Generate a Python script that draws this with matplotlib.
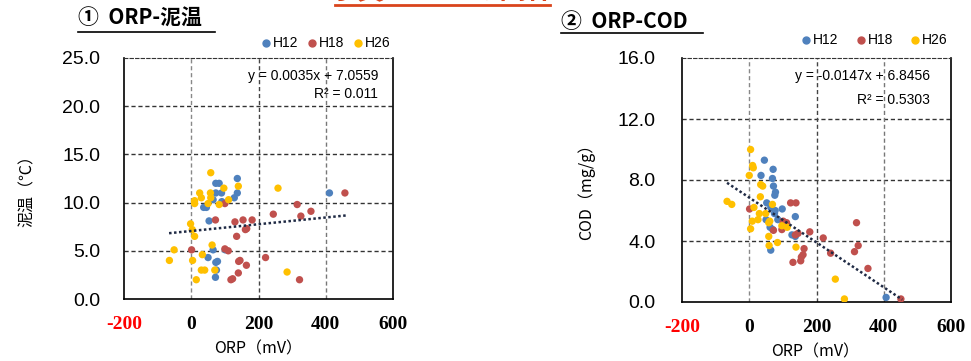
import numpy as np
import matplotlib
matplotlib.use('Agg')
import matplotlib.pyplot as plt
from matplotlib.lines import Line2D

plt.rcParams['font.family'] = ['Liberation Sans', 'Noto Sans CJK JP', 'DejaVu Sans']

W, H = 971, 361
series = ['H12', 'H18', 'H26']
colors = {'H12': '#4F81BD', 'H18': '#C0504D', 'H26': '#FFC000'}

# ---- ORP vs mud temperature ----
temp_h12_orp = [137, 73, 83, 73, 90, 137, 128, 65, 91, 37, 45, 53, 65, 101, 50, 73, 78, 75, 72, 411]
temp_h12_val = [12.5, 12.0, 12.0, 11.0, 11.0, 11.0, 10.5, 10.3, 10.1, 9.5, 9.5, 8.1, 5.1, 5.1, 4.3, 3.8, 3.9, 3.0, 2.25, 11.0]
temp_h18_orp = [457, 315, 356, 244, 326, 100, 72, 130, 154, 181, 161, 165, 135, 1, 100, 110, 141, 145, 221, 164, 140, 118, 123, 322]
temp_h18_val = [11.0, 9.8, 9.1, 8.8, 8.6, 9.9, 8.2, 8.0, 8.2, 8.2, 7.2, 7.3, 6.5, 5.1, 5.2, 5.0, 3.9, 4.0, 4.3, 3.5, 2.7, 2.0, 2.1, 2.0]
temp_h26_orp = [58, 25, 57, 140, 97, 30, 10, 10, 50, 58, 83, 111, 258, -2, 3, 10, -51, 62, -65, 4, 33, 30, 40, 70, 15, 285]
temp_h26_val = [13.1, 11.0, 11.0, 11.7, 11.5, 10.5, 10.2, 9.9, 9.9, 10.5, 9.8, 10.3, 11.5, 7.8, 7.2, 6.5, 5.1, 5.6, 4.0, 4.0, 4.6, 3.0, 3.0, 3.0, 2.0, 2.8]

# ---- ORP vs COD ----
cod_h12_orp = [45, 71, 35, 69, 72, 78, 76, 52, 64, 77, 98, 75, 50, 85, 137, 62, 70, 127, 137, 64, 407]
cod_h12_val = [9.3, 8.7, 8.3, 8.1, 7.6, 7.2, 7.0, 6.5, 6.2, 6.0, 6.1, 5.8, 5.4, 5.4, 5.6, 4.9, 4.75, 4.4, 4.3, 3.4, 0.3]
cod_h18_orp = [123, 139, 319, 1, 101, 111, 97, 72, 180, 145, 137, 220, 324, 313, 163, 242, 160, 155, 153, 130, 353, 451]
cod_h18_val = [6.5, 6.5, 5.2, 6.1, 5.3, 5.2, 4.75, 4.7, 4.6, 4.5, 4.4, 4.2, 3.7, 3.3, 3.5, 3.2, 3.1, 2.95, 2.7, 2.6, 2.2, 0.2]
cod_h26_orp = [4, 10, 12, 0, 34, 40, 33, -66, -52, 69, 14, 30, 49, 26, 9, 61, 58, 4, 97, 113, 58, 84, 59, 139, 256, 283]
cod_h26_val = [10.0, 8.95, 8.8, 8.3, 7.7, 7.6, 6.9, 6.6, 6.4, 6.4, 6.2, 5.8, 5.8, 5.4, 5.3, 5.3, 5.2, 4.8, 5.0, 4.9, 4.3, 3.9, 3.7, 3.6, 1.5, 0.2]

x_ticks = [-200, 0, 200, 400, 600]
x_labels = ['-200', '0', '200', '400', '600']
temp_ticks = [0, 5, 10, 15, 20, 25]
cod_ticks = [0, 4, 8, 12, 16]

# trend lines (values printed on the chart): slope, intercept, R2, x range
temp_fit = (0.0035, 7.0559, '0.011', -66, 460)
cod_fit = (-0.0147, 6.8456, '0.5303', -66, 455)

fig = plt.figure(figsize=(W / 100, H / 100), dpi=100)


def px(x, y):
    return x / W, 1 - y / H


def make_axes(left, top, right, bottom, data, yticks, ylim, fit, eq_pos, r2_gap, pad_y):
    ax = fig.add_axes([left / W, 1 - bottom / H, (right - left) / W, (bottom - top) / H])
    for name, (xs, ys) in zip(series, data):
        ax.scatter(xs, ys, s=28, color=colors[name], edgecolors='none', zorder=3)
    a, b, r2, x0, x1 = fit
    xx = np.array([x0, x1])
    ax.plot(xx, a * xx + b, color='#1F2A44', lw=1.8, ls=(0, (1, 1)), zorder=4)
    ax.set_xlim(-200, 600)
    ax.set_ylim(*ylim)
    ax.set_xticks(x_ticks)
    ax.set_yticks(yticks)
    ax.set_xticklabels(x_labels, family='Liberation Serif', fontweight='bold', fontsize=14)
    ax.get_xticklabels()[0].set_color('red')
    ax.set_yticklabels([f'{v:.1f}' for v in yticks], fontsize=14)
    ax.tick_params(length=0, axis='x', pad=12)
    ax.tick_params(length=0, axis='y', pad=pad_y)
    for v in yticks[1:-1]:
        ax.axhline(v, color='#333333', lw=1, ls=(0, (3, 2)), zorder=1)
    for v, c in [(0, '#888888'), (200, '#444444'), (400, '#777777')]:
        ax.axvline(v, color=c, lw=1, ls=(0, (3, 2)), zorder=1)
    ax.spines['top'].set_linestyle((0, (3, 2)))
    ax.spines['top'].set_color('#333333')
    for s in ['left', 'bottom', 'right']:
        ax.spines[s].set_linewidth(1.2)
    ex, ey = eq_pos
    sign = '-' if a < 0 else ''
    fig.text(*px(ex, ey), f'y = {sign}{abs(a):.4f}x + {b:.4f}', ha='right', va='center', fontsize=10)
    fig.text(*px(ex, ey + r2_gap), f'R² = {r2}', ha='right', va='center', fontsize=10)
    return ax


make_axes(124, 58, 393, 299,
          [(temp_h12_orp, temp_h12_val), (temp_h18_orp, temp_h18_val), (temp_h26_orp, temp_h26_val)],
          temp_ticks, (0, 25), temp_fit, (378, 76), 18, 17)
make_axes(682, 58, 951, 302,
          [(cod_h12_orp, cod_h12_val), (cod_h18_orp, cod_h18_val), (cod_h26_orp, cod_h26_val)],
          cod_ticks, (0, 16), cod_fit, (930, 76), 24, 19)

# titles with underline
jp = ['Noto Sans CJK JP', 'DejaVu Sans']
fig.text(*px(78, 18), '①  ORP-泥温', family=jp, fontweight='bold', fontsize=15, va='center', ha='left')
fig.add_artist(Line2D([78 / W, 215 / W], [1 - 31.5 / H] * 2, color='black', lw=1.2))
fig.text(*px(561, 21), '②  ORP-COD', family=jp, fontweight='bold', fontsize=15, va='center', ha='left')
fig.add_artist(Line2D([561 / W, 703 / W], [1 - 33 / H] * 2, color='black', lw=1.2))

# cut-off red heading at the top
fig.text(*px(442, -9), '水質とCODの関係', family=jp, fontweight='bold', fontsize=20,
         color='#D9441C', va='center', ha='center')
fig.add_artist(Line2D([335 / W, 550 / W], [1 - 5 / H] * 2, color='#D9441C', lw=2))

# legends
for lx, ly, step in [(266, 43, 46), (806, 40, 54.5)]:
    for i, name in enumerate(series):
        x = lx + i * step
        fig.add_artist(Line2D([x / W], [1 - ly / H], marker='o', ms=5, color=colors[name], lw=0))
        fig.text(*px(x + 7, ly), name, fontsize=10, va='center', ha='left')

# axis labels
fig.text(*px(258, 349), 'ORP（mV）', family=jp, fontsize=11.5, ha='center', va='center')
fig.text(*px(815, 352), 'ORP（mV）', family=jp, fontsize=11.5, ha='center', va='center')
fig.text(*px(27, 187), '泥温（℃）', family=jp, fontsize=11.5, ha='center', va='center', rotation=90)
fig.text(*px(586, 188), 'COD（mg/g）', family=jp, fontsize=11.5, ha='center', va='center', rotation=90)

fig.savefig('out.png', dpi=100)
